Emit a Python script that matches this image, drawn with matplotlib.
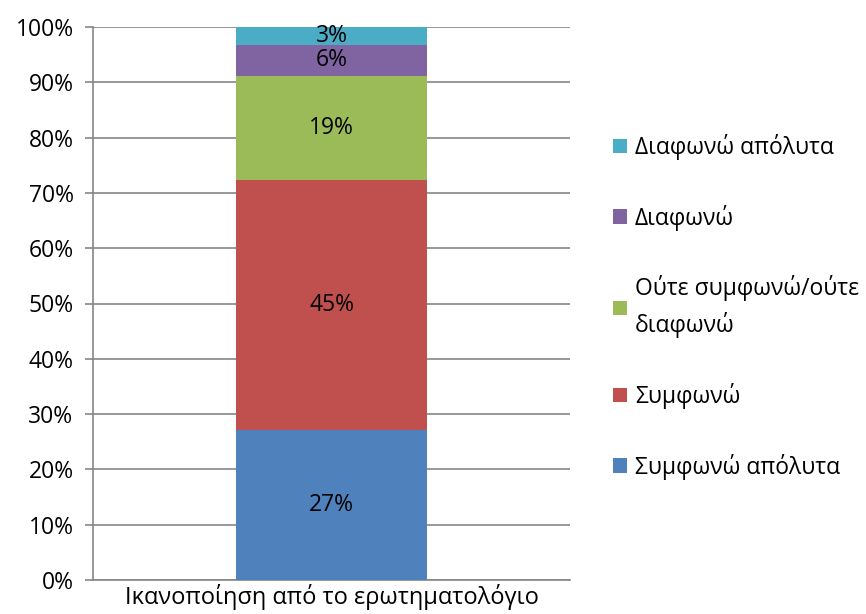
import matplotlib.pyplot as plt
from matplotlib.patches import Patch

plt.rcParams['font.family'] = ['Open Sans', 'DejaVu Sans']

category = 'Ικανοποίηση από το ερωτηματολόγιο'
labels = ['Συμφωνώ απόλυτα', 'Συμφωνώ', 'Ούτε συμφωνώ/ούτε\nδιαφωνώ', 'Διαφωνώ', 'Διαφωνώ απόλυτα']
values = [27.2, 45.1, 18.9, 5.6, 3.2]
colors = ['#4f81bd', '#c0504d', '#9bbb59', '#8064a2', '#4bacc6']

fs = 16.5

fig = plt.figure(figsize=(8.66, 6.14), dpi=100)
ax = fig.add_axes([93 / 866, 1 - 580 / 614, 477 / 866, 553 / 614])

bottom = 0
for val, col in zip(values, colors):
    ax.bar(0, val, bottom=bottom, width=0.40, color=col, zorder=3)
    ax.text(0, bottom + val / 2, f'{round(val)}%', ha='center', va='center',
            fontsize=fs, zorder=4)
    bottom += val

ax.set_xlim(-0.5, 0.5)
ax.set_ylim(0, 100)
ax.set_yticks(range(0, 101, 10))
ax.set_yticklabels([f'{t}%' for t in range(0, 101, 10)], fontsize=fs)
ax.set_xticks([0])
ax.set_xticklabels([category], fontsize=17)
ax.tick_params(axis='x', length=0, pad=3)
ax.tick_params(axis='y', length=6, color='#868686', width=1.2, pad=8)
ax.grid(axis='y', color='#868686', linewidth=1.2, zorder=0)
for s in ['top', 'right']:
    ax.spines[s].set_visible(False)
for s in ['left', 'bottom']:
    ax.spines[s].set_color('#868686')
    ax.spines[s].set_linewidth(1.2)

handles = [Patch(facecolor=c) for c in colors][::-1]
leg = fig.legend(handles, labels[::-1], loc='upper left', bbox_to_anchor=(613 / 866, 1 - 134 / 614),
                 frameon=False, fontsize=fs, handlelength=0.6, handleheight=0.6,
                 handletextpad=0.35, labelspacing=1.95, borderaxespad=0, borderpad=0)
for t in leg.get_texts():
    t.set_linespacing(1.55)

fig.savefig('out.png', dpi=100)
